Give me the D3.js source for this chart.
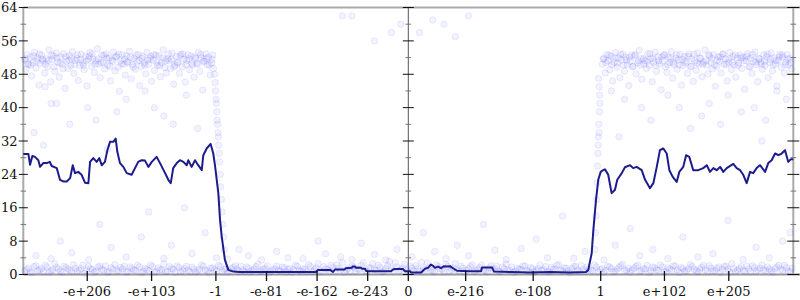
<!DOCTYPE html>
<html><head><meta charset="utf-8">
<script src="https://cdn.jsdelivr.net/npm/d3@7"></script>
<style>html,body{margin:0;padding:0;background:#fff;}svg{display:block;}</style>
</head><body>
<svg id="chart" width="800" height="300"></svg>
<script>
// x values are signed biased binary exponents of f64 (ordered-bits position), range [-2047, 2047]
const xTickValues = [-1707, -1365, -1023, -754, -485, -216, 0, 305, 664, 1023, 1362, 1704];
const xTickLabels = ["-e+206", "-e+103", "-1", "-e-81", "-e-162", "-e-243", "0", "e-216", "e-108", "1", "e+102", "e+205"];
const yTickValues = [0, 8, 16, 24, 32, 40, 48, 56, 64];
const yMinorValues = [4, 12, 20, 28, 36, 44, 52, 60];

// moving-average line
const lineX = [-2047,-2020,-2011,-1999,-1985,-1967,-1958,-1941,-1923,-1906,-1896,-1869,-1852,-1834,-1816,-1798,-1784,-1772,-1755,-1737,-1719,-1701,-1692,-1675,-1657,-1643,-1630,-1613,-1600,-1586,-1568,-1556,-1547,-1533,-1515,-1497,-1471,-1453,-1436,-1418,-1400,-1382,-1364,-1338,-1320,-1293,-1276,-1263,-1250,-1231,-1214,-1196,-1178,-1170,-1152,-1134,-1117,-1098,-1090,-1072,-1051,-1037,-1028,-1010,-1001,-992,-975,-957,-930,-895,-789,-682,-576,-491,-480,-416,-400,-390,-338,-333,-301,-296,-283,-278,-251,-246,-230,-225,-215,-92,-81,-71,-28,-18,9,14,68,89,105,121,131,142,158,174,190,206,222,238,259,328,387,392,445,456,541,647,753,860,945,957,975,984,998,1010,1023,1035,1046,1063,1081,1099,1111,1135,1152,1179,1196,1214,1241,1259,1285,1303,1321,1338,1356,1374,1388,1406,1427,1441,1462,1477,1494,1515,1542,1568,1587,1604,1622,1640,1658,1675,1693,1728,1746,1764,1781,1799,1817,1834,1852,1870,1897,1914,1932,1950,1968,1985,2003,2020,2033,2047];
const lineY = [28.9,28.9,26.3,28.4,28.2,27.4,25.8,26.7,26.7,27.0,26.0,25.5,22.7,22.3,22.3,23.1,26.2,24.3,24.6,23.9,22.0,21.9,27.0,27.9,27.0,27.9,26.2,27.0,29.8,31.8,31.8,32.6,29.4,26.7,25.8,24.3,23.9,25.5,27.0,27.4,27.3,25.8,27.0,28.2,26.7,24.3,22.7,21.9,25.5,26.7,27.4,27.0,26.2,27.4,25.8,27.4,26.2,25.0,28.6,30.2,31.3,29.0,26.2,19.5,13.1,9.1,3.5,1.1,0.7,0.6,0.6,0.6,0.6,0.6,1.1,1.1,0.6,1.2,1.2,1.5,1.6,1.9,1.9,1.6,1.6,1.4,1.4,0.9,0.8,0.8,1.2,1.3,1.3,0.8,0.8,0.5,0.5,1.4,1.6,2.4,2.1,1.6,1.9,1.5,2.0,1.9,2.0,1.5,0.9,0.8,0.8,1.7,1.7,0.7,0.6,0.5,0.6,0.5,0.6,1.1,5.1,10.7,17.9,22.7,24.6,25.0,25.2,23.9,19.5,20.3,22.7,24.3,25.7,26.2,25.5,25.8,25.0,22.7,20.7,21.9,25.8,29.8,30.2,29.0,25.0,23.4,22.2,24.6,25.8,28.6,28.2,25.0,25.0,25.5,26.2,24.6,25.5,25.0,25.8,24.6,25.5,26.5,25.5,25.0,23.9,21.9,24.6,24.3,25.5,26.2,24.6,26.7,27.4,29.0,28.6,29.0,29.8,27.0,27.6,27.6];

// individual samples (x, y)
const upperLeft = [[-2040,51.4],[-2032,49.2],[-2026,52.7],[-2018,50.3],[-2010,52.1],[-2003,47.6],[-1995,50.8],[-1988,53.3],[-1979,49.5],[-1972,51.9],[-1964,45.4],[-1957,50.6],[-1950,52.6],[-1941,51.2],[-1933,48.3],[-1925,51.7],[-1918,49.8],[-1910,53.8],[-1902,46.2],[-1895,51.5],[-1887,52.4],[-1879,48.7],[-1871,53.1],[-1864,50.9],[-1856,47.3],[-1848,52.2],[-1840,50.4],[-1832,52.9],[-1825,44.6],[-1817,51.1],[-1809,49.4],[-1801,52.5],[-1794,50.1],[-1786,53.4],[-1778,48.2],[-1770,51.3],[-1762,51.8],[-1755,46.5],[-1747,50.2],[-1739,52.8],[-1731,50.7],[-1723,49.1],[-1716,52.3],[-1708,45.2],[-1700,51.6],[-1692,53.2],[-1684,49.9],[-1677,51.7],[-1669,48.4],[-1661,51.2],[-1653,54.1],[-1646,50.5],[-1638,47.2],[-1630,52.6],[-1622,50.8],[-1614,49.3],[-1607,52.9],[-1599,50.2],[-1591,51.9],[-1583,46.4],[-1575,51.4],[-1568,53.3],[-1560,48.8],[-1552,52.2],[-1544,49.7],[-1537,43.9],[-1529,51.2],[-1521,52.7],[-1513,50.4],[-1505,47.8],[-1498,52.4],[-1490,50.9],[-1482,53.5],[-1474,46.9],[-1466,50.3],[-1459,51.8],[-1451,49.2],[-1443,51.1],[-1435,52.8],[-1428,45.3],[-1420,49.9],[-1412,52.3],[-1404,50.7],[-1396,48.1],[-1389,53.2],[-1381,50.4],[-1373,51.8],[-1365,46.3],[-1357,51.4],[-1350,48.9],[-1342,52.6],[-1334,50.1],[-1326,52.4],[-1318,47.4],[-1311,50.8],[-1303,53.9],[-1295,49.6],[-1287,48.3],[-1279,51.7],[-1272,51.2],[-1264,49.4],[-1256,53.1],[-1248,45.6],[-1241,50.2],[-1233,52.3],[-1225,50.9],[-1217,48.2],[-1209,52.8],[-1202,49.8],[-1194,51.6],[-1186,46.1],[-1178,51.3],[-1171,52.7],[-1163,49.1],[-1155,52.4],[-1147,50.2],[-1139,47.3],[-1132,51.8],[-1124,50.6],[-1116,53.2],[-1108,48.7],[-1100,51.9],[-1093,44.2],[-1085,51.1],[-1077,52.9],[-1069,50.3],[-1062,52.1],[-1054,47.8],[-1046,50.7],[-1040,52.6],[-1036,49.4],
[-2036,51.7],[-2022,50.6],[-2007,50.2],[-1992,52.4],[-1976,51.1],[-1961,52.8],[-1946,51.6],[-1929,50.4],[-1914,51.3],[-1898,52.6],[-1883,49.8],[-1867,51.9],[-1852,50.7],[-1836,49.3],[-1821,52.2],[-1805,51.4],[-1790,51.8],[-1774,50.3],[-1759,52.7],[-1743,51.5],[-1727,50.1],[-1712,51.2],[-1696,52.3],[-1681,52.9],[-1665,50.4],[-1649,51.7],[-1634,50.8],[-1618,52.5],[-1603,51.9],[-1587,49.9],[-1571,51.1],[-1556,52.2],[-1540,52.8],[-1525,50.5],[-1509,51.6],[-1494,50.9],[-1478,52.1],[-1462,49.7],[-1447,52.6],[-1431,51.3],[-1416,51.8],[-1400,50.2],[-1385,51.4],[-1369,52.3],[-1353,52.7],[-1338,50.8],[-1322,50.1],[-1307,51.9],[-1291,51.2],[-1276,52.8],[-1260,51.6],[-1244,49.8],[-1229,50.7],[-1213,52.4],[-1198,52.9],[-1182,50.3],[-1167,51.7],[-1151,50.6],[-1135,52.2],[-1120,50.4],[-1104,52.7],[-1089,51.1],[-1073,51.8],[-1058,50.2],[-1043,51.6]];
const upperRight = [[1032,50.4],[1040,51.8],[1047,48.3],[1055,52.7],[1063,51.2],[1071,49.1],[1078,52.3],[1086,46.4],[1094,50.8],[1102,53.2],[1110,49.7],[1117,51.9],[1125,47.2],[1133,51.4],[1141,52.8],[1149,48.8],[1156,52.1],[1164,50.3],[1172,45.3],[1180,51.1],[1188,52.6],[1195,49.9],[1203,52.4],[1211,48.1],[1219,50.7],[1227,53.7],[1234,50.2],[1242,46.8],[1250,51.7],[1258,51.3],[1266,49.4],[1273,52.9],[1281,50.1],[1289,51.8],[1297,46.2],[1305,50.9],[1312,53.3],[1320,48.7],[1328,52.2],[1336,50.5],[1344,44.3],[1351,51.2],[1359,52.7],[1367,49.8],[1375,48.4],[1383,52.1],[1390,50.8],[1398,53.4],[1406,47.1],[1414,50.3],[1422,51.9],[1429,49.2],[1437,51.4],[1445,52.8],[1453,45.4],[1461,50.1],[1468,52.3],[1476,50.7],[1484,48.2],[1492,52.9],[1500,49.8],[1507,51.7],[1515,46.3],[1523,51.2],[1531,48.9],[1539,53.1],[1546,50.4],[1554,51.8],[1562,47.4],[1570,50.9],[1578,53.8],[1585,50.2],[1593,48.1],[1601,52.4],[1609,50.8],[1617,49.3],[1624,52.7],[1632,45.1],[1640,49.9],[1648,52.2],[1656,51.1],[1663,48.3],[1671,52.8],[1679,50.4],[1687,51.7],[1695,46.4],[1702,50.8],[1710,53.2],[1718,49.1],[1726,52.3],[1734,50.2],[1741,47.3],[1749,51.9],[1757,50.7],[1765,52.6],[1773,49.4],[1780,52.1],[1788,44.4],[1796,51.3],[1804,52.9],[1812,49.8],[1819,51.8],[1827,48.2],[1835,51.1],[1843,53.3],[1851,50.3],[1858,46.2],[1866,51.7],[1874,50.9],[1882,49.2],[1890,52.7],[1897,50.1],[1905,52.2],[1913,47.2],[1921,50.8],[1929,53.1],[1936,48.8],[1944,51.9],[1952,50.4],[1960,45.2],[1968,51.3],[1975,52.8],[1983,49.7],[1991,52.1],[1999,48.3],[2007,50.9],[2014,52.7],[2022,50.2],[2030,51.8],[2038,49.3],
[1036,51.6],[1051,50.8],[1067,52.6],[1082,50.3],[1098,51.9],[1113,50.7],[1129,52.8],[1145,50.2],[1160,51.4],[1176,52.1],[1192,49.8],[1207,52.7],[1223,51.2],[1238,51.8],[1254,50.4],[1270,51.1],[1285,52.9],[1301,51.7],[1316,50.1],[1332,51.3],[1348,52.2],[1363,52.6],[1379,50.3],[1394,51.8],[1410,50.9],[1426,52.7],[1441,50.2],[1457,51.6],[1472,51.1],[1488,52.3],[1504,49.9],[1519,52.8],[1535,50.7],[1550,51.9],[1566,50.4],[1582,51.2],[1597,52.7],[1613,51.8],[1628,50.2],[1644,51.4],[1660,52.1],[1675,52.9],[1691,50.3],[1706,51.7],[1722,50.8],[1738,52.6],[1753,50.1],[1769,51.9],[1784,51.2],[1800,52.3],[1816,49.8],[1831,52.7],[1847,50.9],[1862,51.8],[1878,50.4],[1894,51.1],[1909,52.8],[1925,51.6],[1940,50.2],[1956,51.3],[1972,52.2],[1987,52.6],[2003,50.3],[2018,51.7],[2034,50.8]];
const transitions = [[-1030,48],[-1027,46],[-1025,44],[-1022,42],[-1020,41],[-1018,39],[-1016,37],[-1014,36],[-1012,34],[-1010,33],[-1008,31],[-1005,29],[-1003,27],[-1000,24],[-997,21],[-994,18],[-990,15],[-986,12],[-982,9],[-978,6],
[1012,47],[1015,45],[1017,43],[1019,41],[1016,39],[1013,36],[1014,34],[1011,33],[1010,31],[1008,29],[1006,26],[1004,22],[1001,18],[998,14],[995,10],[992,6]];
const outliers = [[-1990,34],[-1931,45],[-1899,41],[-1870,41],[-1800,36],[-1705,40],[-1660,37],[-1550,39],[-1500,42],[-1300,38],[-1250,36],[-1180,43],[-1120,35],[-1600,30],[-1940,31],[-1400,44],[-1350,40],
[1080,44],[1150,42],[1240,40],[1290,37],[1380,43],[1440,40],[1500,35],[1560,38],[1600,41],[1660,36],[1700,43],[1770,39],[1840,40],[1900,37],[1960,44],[2010,42],[1120,33],[1880,32],
[-1980,4.5],[-1900,3.8],[-1850,8],[-1790,5.2],[-1700,3.5],[-1640,12],[-1580,6.5],[-1500,4.2],[-1420,9],[-1380,15],[-1300,3.9],[-1260,7],[-1190,16],[-1150,5],[-1080,10],[-1020,4],[-960,3.7],[-900,6],[-850,4.5],[-780,3.5],[-700,5.5],[-640,4],[-560,3.8],[-480,8],[-440,5],[-360,4.2],[-300,3.6],[-250,7.5],[-180,4.8],[-120,3.5],[-60,6],[20,4.2],[80,10],[140,5.5],[200,3.8],[260,7],[320,4.5],[400,12],[460,5.8],[520,3.6],[600,6.2],[680,8.5],[740,4],[820,14],[880,3.9],[940,5.5],[1040,3.5],[1100,7],[1180,11],[1230,4.5],[1300,6],[1380,3.8],[1460,9],[1540,4.2],[1620,5],[1700,13],[1780,3.6],[1850,6.5],[1920,4],[1990,8],[2030,10],
[-350,62],[-300,62],[-90,58],[-40,60],[60,58],[130,61],[190,60],[250,57],[320,62],[-180,56]];
const lowerX = [-2040,-2020,-2000,-1980,-1960,-1940,-1920,-1900,-1880,-1860,-1840,-1820,-1800,-1780,-1760,-1740,-1720,-1700,-1680,-1660,-1640,-1620,-1600,-1580,-1560,-1540,-1520,-1500,-1480,-1460,-1440,-1420,-1400,-1380,-1360,-1340,-1320,-1300,-1280,-1260,-1240,-1220,-1200,-1180,-1160,-1140,-1120,-1100,-1080,-1060,-1040,-1020,-1000,-980,-960,-940,-920,-900,-880,-860,-840,-820,-800,-780,-760,-740,-720,-700,-680,-660,-640,-620,-600,-580,-560,-540,-520,-500,-480,-460,-440,-420,-400,-380,-360,-340,-320,-300,-280,-260,-240,-220,-200,-180,-160,-140,-120,-100,-80,-60,-40,-20,0,20,40,60,80,100,120,140,160,180,200,220,240,260,280,300,320,340,360,380,400,420,440,460,480,500,520,540,560,580,600,620,640,660,680,700,720,740,760,780,800,820,840,860,880,900,920,940,960,980,1000,1020,1040,1060,1080,1100,1120,1140,1160,1180,1200,1220,1240,1260,1280,1300,1320,1340,1360,1380,1400,1420,1440,1460,1480,1500,1520,1540,1560,1580,1600,1620,1640,1660,1680,1700,1720,1740,1760,1780,1800,1820,1840,1860,1880,1900,1920,1940,1960,1980,2000,2020,2040,
-2030,-2010,-1990,-1970,-1950,-1930,-1910,-1890,-1870,-1850,-1830,-1810,-1790,-1770,-1750,-1730,-1710,-1690,-1670,-1650,-1630,-1610,-1590,-1570,-1550,-1530,-1510,-1490,-1470,-1450,-1430,-1410,-1390,-1370,-1350,-1330,-1310,-1290,-1270,-1250,-1230,-1210,-1190,-1170,-1150,-1130,-1110,-1090,-1070,-1050,-1030,-1010,-990,-970,-950,-930,-910,-890,-870,-850,-830,-810,-790,-770,-750,-730,-710,-690,-670,-650,-630,-610,-590,-570,-550,-530,-510,-490,-470,-450,-430,-410,-390,-370,-350,-330,-310,-290,-270,-250,-230,-210,-190,-170,-150,-130,-110,-90,-70,-50,-30,-10,10,30,50,70,90,110,130,150,170,190,210,230,250,270,290,310,330,350,370,390,410,430,450,470,490,510,530,550,570,590,610,630,650,670,690,710,730,750,770,790,810,830,850,870,890,910,930,950,970,990,1010,1030,1050,1070,1090,1110,1130,1150,1170,1190,1210,1230,1250,1270,1290,1310,1330,1350,1370,1390,1410,1430,1450,1470,1490,1510,1530,1550,1570,1590,1610,1630,1650,1670,1690,1710,1730,1750,1770,1790,1810,1830,1850,1870,1890,1910,1930,1950,1970,1990,2010,2030];
const lowerY = [0.8,1.5,0.4,2.1,1.1,0.6,1.8,0.9,2.6,1.3,0.5,1.7,1.0,2.3,0.7,1.4,0.3,1.9,1.2,0.8,2.0,1.0,0.5,1.6,2.4,0.9,1.3,0.6,1.8,1.1,2.2,0.4,1.5,0.9,1.9,0.7,1.2,2.5,0.8,1.4,0.5,1.7,1.0,2.0,0.6,1.3,0.9,2.3,1.1,0.4,1.6,0.8,1.9,1.2,0.5,1.4,2.1,0.7,1.0,1.8,0.6,1.3,2.4,0.9,1.5,0.4,1.1,2.0,0.8,1.6,1.2,0.5,2.2,0.9,1.4,0.7,1.9,1.1,2.6,0.6,1.3,0.8,1.7,2.3,1.0,0.5,1.5,2.0,0.9,1.2,2.8,0.7,1.6,1.1,2.2,0.6,1.4,3.1,0.9,1.8,1.2,2.5,0.7,1.5,2.1,0.8,1.3,2.7,1.0,0.6,1.9,1.2,2.4,0.8,1.6,1.1,2.0,0.5,1.4,2.3,0.9,1.7,1.1,0.6,2.1,1.3,0.8,1.8,2.5,1.0,0.5,1.5,1.2,2.0,0.7,1.4,0.9,2.2,1.1,0.6,1.7,1.3,2.4,0.8,1.5,0.4,1.9,1.0,2.1,0.7,1.3,0.9,1.8,1.2,0.5,2.0,1.4,0.8,1.7,2.5,1.0,0.6,1.5,2.2,0.9,1.3,0.4,1.8,1.1,2.3,0.7,1.6,1.0,2.0,0.5,1.4,0.9,2.4,1.2,0.6,1.7,1.1,2.1,0.8,1.5,0.4,1.9,1.2,2.6,0.7,1.4,1.0,2.0,0.6,1.6,1.1,2.3,0.9,1.3,0.5,1.8,1.2,2.2,0.8,1.5,
1.2,0.6,1.9,0.9,1.4,2.2,0.5,1.1,1.7,0.8,2.0,1.3,0.6,1.5,1.0,2.2,0.9,1.4,0.5,1.8,1.2,2.1,0.7,1.3,0.9,1.7,2.0,0.6,1.4,1.0,1.8,0.8,1.2,2.3,0.5,1.6,1.1,0.7,1.9,1.3,2.1,0.6,1.4,1.0,1.8,0.5,1.2,2.0,0.9,1.5,1.1,2.2,0.7,1.3,0.9,1.7,1.2,2.0,0.6,1.5,1.0,1.9,0.7,1.3,2.1,0.8,1.4,1.0,1.8,0.6,1.5,1.1,2.0,0.8,1.3,2.4,0.7,1.6,1.0,1.9,1.3,2.2,0.8,1.5,2.9,1.1,0.7,1.8,1.3,2.2,0.9,1.6,2.6,1.0,1.7,0.8,2.1,1.4,2.8,0.9,1.6,1.1,2.0,0.8,1.4,2.9,1.1,1.7,0.9,2.3,1.3,0.7,1.9,1.1,2.6,0.8,1.5,1.0,1.9,0.7,1.3,2.2,0.9,1.6,1.2,2.0,0.6,1.4,1.0,1.8,0.8,1.3,2.1,1.0,1.7,0.6,1.4,1.0,1.9,0.7,1.3,2.2,1.0,1.6,0.8,1.4,2.0,0.6,1.2,1.8,1.0,2.3,0.7,1.4,1.0,1.8,0.6,1.3,2.1,0.9,1.5,1.1,1.9,0.7,1.4,2.2,0.9,1.6,1.0,1.8,0.6,1.3,2.1,1.1,1.7,0.8,1.4,1.9,0.9,1.3,2.2,0.7,1.5,1.0,1.8,1.2,2.0,0.6,1.4,1.0,1.9,0.8,1.3,2.1,0.7,1.5,1.1,1.8,0.9,1.4,2.2,1.0,1.6,0.7];

const W = 800, H = 300;
const svg = d3.select("#chart");
const x = d3.scaleLinear().domain([-2047, 2047]).range([23.3, 793.3]);
const y = d3.scaleLinear().domain([0, 64]).range([274.5, 7.5]);
const font = "DejaVu Serif, Liberation Serif, serif";

// frame lines
svg.append("line").attr("x1", x(-2047)).attr("x2", W).attr("y1", y(64)).attr("y2", y(64))
  .attr("stroke", "#aaa").attr("stroke-width", 2);
svg.append("line").attr("x1", x(-2047)).attr("x2", W).attr("y1", y(0)).attr("y2", y(0))
  .attr("stroke", "#999").attr("stroke-width", 2);
svg.append("line").attr("x1", x(-2047)).attr("x2", x(-2047)).attr("y1", y(64)).attr("y2", y(0))
  .attr("stroke", "#aaa").attr("stroke-width", 2);
svg.append("line").attr("x1", x(2047)).attr("x2", x(2047)).attr("y1", y(64)).attr("y2", y(0))
  .attr("stroke", "#aaa").attr("stroke-width", 2);
svg.append("line").attr("x1", x(0)).attr("x2", x(0)).attr("y1", y(64)).attr("y2", y(0))
  .attr("stroke", "#555").attr("stroke-width", 1);

// scatter
const pts = [];
upperLeft.forEach(d => pts.push(d));
upperRight.forEach(d => pts.push(d));
transitions.forEach(d => pts.push(d));
outliers.forEach(d => pts.push(d));
lowerX.forEach((v, i) => pts.push([v, lowerY[i]]));
svg.append("g").selectAll("circle").data(pts).join("circle")
  .attr("cx", d => x(d[0])).attr("cy", d => y(d[1])).attr("r", 3.2)
  .attr("fill", "#3030ff").attr("fill-opacity", 0.06)
  .attr("stroke", "#3030ff").attr("stroke-opacity", 0.09).attr("stroke-width", 1);

// line
const line = d3.line().x((d, i) => x(lineX[i])).y(d => y(d));
svg.append("path").datum(lineY).attr("d", line).attr("fill", "none")
  .attr("stroke", "#1c1c8c").attr("stroke-width", 2).attr("stroke-linejoin", "round");

// y ticks on three vertical axes
const axesX = [[x(-2047), 4.5], [x(0), 5.5], [x(2047), 6]];
axesX.forEach(([ax, len]) => {
  svg.append("g").selectAll("line").data(yTickValues).join("line")
    .attr("x1", ax - len).attr("x2", ax + len).attr("y1", d => y(d)).attr("y2", d => y(d))
    .attr("stroke", "#111").attr("stroke-width", 1);
  svg.append("g").selectAll("line").data(yMinorValues).join("line")
    .attr("x1", ax - 2.8).attr("x2", ax + 2.8).attr("y1", d => y(d)).attr("y2", d => y(d))
    .attr("stroke", "#777").attr("stroke-width", 1);
});

// y labels
svg.append("g").selectAll("text").data(yTickValues).join("text")
  .attr("x", 17.5).attr("y", d => y(d)).attr("dy", "0.36em").attr("text-anchor", "end")
  .attr("font-family", font).attr("font-size", 13).attr("fill", "#111")
  .text(d => d);

// x ticks
svg.append("g").selectAll("line").data(xTickValues).join("line")
  .attr("x1", d => x(d)).attr("x2", d => x(d)).attr("y1", 271).attr("y2", 281)
  .attr("stroke", "#111").attr("stroke-width", 1.3);
svg.append("g").selectAll("text").data(xTickValues).join("text")
  .attr("x", d => x(d)).attr("y", 295.5).attr("text-anchor", "middle")
  .attr("font-family", font).attr("font-size", 13).attr("fill", "#111")
  .text((d, i) => xTickLabels[i]);
</script>
</body></html>
